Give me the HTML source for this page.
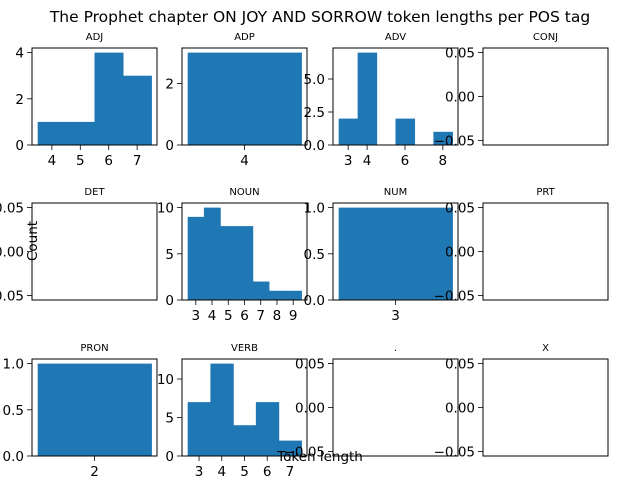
<!DOCTYPE html>
<html><head><meta charset="utf-8"><style>
body{margin:0;background:#fff}
svg{display:block;font-family:"DejaVu Sans","Liberation Sans",sans-serif}
</style></head><body>
<svg id="fig" width="640" height="480" viewBox="0 0 640 480">
<rect width="640" height="480" fill="#fff"/>
<text x="320" y="22" text-anchor="middle" font-size="15.5">The Prophet chapter ON JOY AND SORROW token lengths per POS tag</text>
</svg>
<script>
// Data per panel
const tags = ["ADJ","ADP","ADV","CONJ","DET","NOUN","NUM","PRT","PRON","VERB",".","X"];
const binStarts = [[3.5,4.5,5.5,6.5],[3.5],[2.5,3.5,4.5,5.5,6.5,7.5],[],[],[2.5,3.5,4.5,5.5,6.5,7.5,8.5],[2.5],[],[1.5],[2.5,3.5,4.5,5.5,6.5],[],[]];
const counts = [[1,1,4,3],[3],[2,7,0,2,0,1],[],[],[9,10,8,8,2,1,1],[1],[],[1],[7,12,4,7,2],[],[]];
const xTicks = [[4,5,6,7],[4],[3,4,6,8],[],[],[3,4,5,6,7,8,9],[3],[],[2],[3,4,5,6,7],[],[]];
const yTicks = [[0,2,4],[0,2],[0,2.5,5],[-0.05,0,0.05],[-0.05,0,0.05],[0,5,10],[0,0.5,1],[-0.05,0,0.05],[0,0.5,1],[0,5,10],[-0.05,0,0.05],[-0.05,0,0.05]];
const yTickLabels = [["0","2","4"],["0","2"],["0.0","2.5","5.0"],["−0.05","0.00","0.05"],["−0.05","0.00","0.05"],["0","5","10"],["0.0","0.5","1.0"],["−0.05","0.00","0.05"],["0.0","0.5","1.0"],["0","5","10"],["−0.05","0.00","0.05"],["−0.05","0.00","0.05"]];
const binWidth = 1;

const svg = document.getElementById('fig');
const NS = 'http://www.w3.org/2000/svg';
function mk(tag, attrs, parent){const e=document.createElementNS(NS,tag);for(const k in attrs)e.setAttribute(k,attrs[k]);parent.appendChild(e);return e;}
const colX=[32,182,333,483], rowY=[48,203,359], W=125, H=97;
tags.forEach((tag,i)=>{
  const L=colX[i%4], T=rowY[Math.floor(i/4)], B=T+H, R=L+W;
  const g=mk('g',{},svg);
  
  
  let xmin,xmax,ymin,ymax;
  const bs=binStarts[i], c=counts[i];
  if(bs.length){
    const lo=bs[0], hi=bs[bs.length-1]+binWidth, pad=(hi-lo)*0.05;
    xmin=lo-pad; xmax=hi+pad; ymin=0; ymax=Math.max(...c)*1.05;
  } else {xmin=-0.055;xmax=0.055;ymin=-0.055;ymax=0.055;}
  const sx=v=>L+(v-xmin)/(xmax-xmin)*W, sy=v=>B-(v-ymin)/(ymax-ymin)*H;
  bs.forEach((s,k)=>{
    if(!c[k])return;
    const r=mk('rect',{x:sx(s),y:sy(c[k]),width:sx(s+binWidth)-sx(s)+0.6,height:sy(0)-sy(c[k]),fill:'#1f77b4'},g);
    
    
  });
  const fr=mk('rect',{x:L,y:T,width:W,height:H,fill:'none',stroke:'#000','stroke-width':1},g);
  
  
  const t=mk('text',{x:L+W/2,y:T-8,'text-anchor':'middle','font-size':10},g);
  t.textContent=tag;
  
  
  xTicks[i].forEach(v=>{
    const x=sx(v);
    mk('line',{x1:x,x2:x,y1:B,y2:B+5,stroke:'#000','stroke-width':0.8},g);
    const tx=mk('text',{x:x,y:B+20,'text-anchor':'middle','font-size':13.5},g);
    tx.textContent=String(v);
    
    
  });
  yTicks[i].forEach((v,k)=>{
    const y=sy(v);
    mk('line',{x1:L-5,x2:L,y1:y,y2:y,stroke:'#000','stroke-width':0.8},g);
    const ty=mk('text',{x:L-8,y:y+5,'text-anchor':'end','font-size':13.5},g);
    ty.textContent=yTickLabels[i][k];
    
    
  });
});
const yl=mk('text',{x:0,y:0,'text-anchor':'middle','font-size':13.5,transform:'translate(37,241) rotate(-90)'},svg);
yl.textContent='Count';


const xl=mk('text',{x:320,y:461,'text-anchor':'middle','font-size':13.5},svg);
xl.textContent='Token length';


</script>
</body></html>
